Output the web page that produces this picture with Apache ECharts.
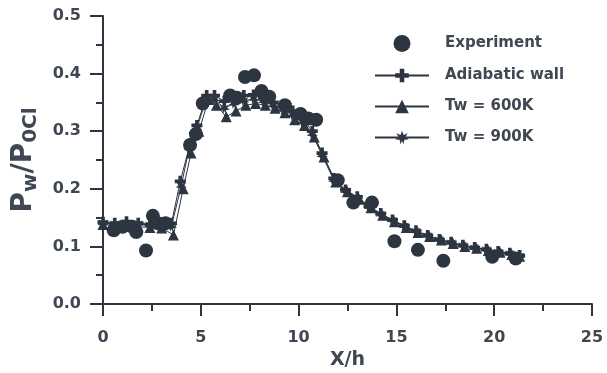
<!DOCTYPE html>
<html>
  <head>
    <meta charset="utf-8" />
    <title>Pw/P0Cl vs X/h</title>
    <script src="https://cdn.jsdelivr.net/npm/echarts@6.0.0/dist/echarts.min.js"></script>
  </head>
  <body style="margin: 0; background: #fff">
    <div id="main" style="width: 607px; height: 373px"></div>
    <script type="text/javascript">
      // experiment points [X/h, Pw/P0Cl]
      var expX = [0.55, 1.0, 1.5, 1.7, 2.2, 2.55, 2.8, 3.2, 4.45, 4.75, 5.1, 6.5, 6.85, 7.26, 7.72, 8.1, 8.5, 9.3, 10.1, 10.5, 10.9, 12.0, 12.8, 13.75, 14.9, 16.1, 17.4, 19.9, 21.1];
      var expY = [0.128, 0.134, 0.134, 0.125, 0.093, 0.153, 0.14, 0.14, 0.276, 0.295, 0.348, 0.362, 0.358, 0.394, 0.397, 0.37, 0.36, 0.345, 0.33, 0.322, 0.32, 0.215, 0.176, 0.176, 0.109, 0.094, 0.075, 0.082, 0.079];

      // adiabatic wall
      var adX = [0, 0.6, 1.2, 1.8, 2.4, 3.0, 3.5, 3.95, 4.45, 4.8, 5.3, 5.7, 6.2, 6.7, 7.2, 7.7, 8.2, 8.7, 9.2, 9.7, 10.2, 10.7, 11.2, 11.8, 12.4, 13.0, 13.6, 14.2, 14.8, 15.4, 16.0, 16.6, 17.2, 17.8, 18.4, 19.0, 19.6, 20.2, 20.8, 21.3];
      var adY = [0.142, 0.14, 0.143, 0.14, 0.138, 0.141, 0.14, 0.213, 0.278, 0.31, 0.362, 0.362, 0.352, 0.358, 0.362, 0.363, 0.358, 0.35, 0.343, 0.335, 0.322, 0.3, 0.262, 0.218, 0.198, 0.186, 0.17, 0.157, 0.146, 0.136, 0.127, 0.119, 0.112, 0.107, 0.102, 0.098, 0.095, 0.091, 0.088, 0.084];

      // Tw = 600K
      var t6X = [0, 0.6, 1.2, 1.8, 2.4, 3.0, 3.6, 4.1, 4.5, 4.9, 5.4, 5.8, 6.3, 6.8, 7.3, 7.8, 8.3, 8.8, 9.3, 9.8, 10.3, 10.8, 11.3, 11.9, 12.5, 13.1, 13.7, 14.3, 14.9, 15.5, 16.1, 16.7, 17.3, 17.9, 18.5, 19.1, 19.7, 20.3, 20.9, 21.3];
      var t6Y = [0.138, 0.136, 0.135, 0.134, 0.133, 0.132, 0.12, 0.2, 0.262, 0.3, 0.355, 0.345, 0.325, 0.335, 0.345, 0.348, 0.345, 0.34, 0.332, 0.32, 0.31, 0.29, 0.255, 0.212, 0.195, 0.182, 0.167, 0.154, 0.143, 0.133, 0.124, 0.117, 0.111, 0.105, 0.1, 0.097, 0.093, 0.09, 0.086, 0.083];

      // Tw = 900K
      var t9X = [0, 0.6, 1.2, 1.8, 2.4, 3.0, 3.5, 4.0, 4.4, 4.8, 5.3, 5.7, 6.2, 6.7, 7.2, 7.7, 8.2, 8.7, 9.2, 9.7, 10.2, 10.7, 11.2, 11.8, 12.4, 13.0, 13.6, 14.2, 14.8, 15.4, 16.0, 16.6, 17.2, 17.8, 18.4, 19.0, 19.6, 20.2, 20.8, 21.3];
      var t9Y = [0.14, 0.139, 0.14, 0.139, 0.137, 0.139, 0.135, 0.205, 0.27, 0.305, 0.358, 0.355, 0.34, 0.348, 0.353, 0.356, 0.352, 0.345, 0.337, 0.328, 0.316, 0.295, 0.258, 0.215, 0.196, 0.184, 0.168, 0.155, 0.145, 0.135, 0.126, 0.118, 0.111, 0.106, 0.101, 0.097, 0.094, 0.09, 0.087, 0.083];

      var xTicks = [0, 5, 10, 15, 20, 25];
      var yTicks = [0.0, 0.1, 0.2, 0.3, 0.4, 0.5];

      function pairs(xs, ys) {
        return xs.map((x, i) => [x, ys[i]]);
      }

      var ink = "#2c3540";
      var txt = "#3e4752";
      var font = "DejaVu Sans";
      var plus = "path://M-1,-3L1,-3L1,-1L3,-1L3,1L1,1L1,3L-1,3L-1,1L-3,1L-3,-1L-1,-1Z";
      var star = "path://M0,-4L0.9,-1.6L3.4,-2.6L2,-0.5L4,1L1.4,1.2L0.9,3.8L0,1.8L-0.9,3.8L-1.4,1.2L-4,1L-2,-0.5L-3.4,-2.6L-0.9,-1.6Z";

      var myChart = echarts.init(document.getElementById("main"));

      var option = {
        backgroundColor: "#ffffff",
        animation: false,
        grid: { left: 103, right: 15, top: 16, bottom: 69, outerBoundsMode: "none" },
        legend: {
          orient: "vertical",
          left: 369,
          top: 30,
          itemWidth: 54,
          itemHeight: 17,
          itemGap: 16,
          textStyle: { color: txt, fontSize: 15, fontWeight: "bold", fontFamily: font, padding: [0, 0, 0, 11] },
          data: ["Experiment", "Adiabatic wall", "Tw = 600K", "Tw = 900K"],
        },
        xAxis: {
          type: "value",
          min: 0,
          max: 25,
          interval: 5,
          name: "X/h",
          nameLocation: "middle",
          nameGap: 46,
          nameTextStyle: { color: txt, fontSize: 19, fontWeight: "bold", fontFamily: font },
          axisLine: { lineStyle: { color: ink, width: 2 } },
          axisTick: { length: 12, lineStyle: { color: ink, width: 2 } },
          minorTick: { show: true, splitNumber: 2, length: 7, lineStyle: { color: ink, width: 2 } },
          splitLine: { show: false },
          axisLabel: {
            color: txt,
            fontSize: 16,
            fontWeight: "bold",
            fontFamily: font,
            margin: 26,
            formatter: (v) => (xTicks.indexOf(v) >= 0 ? String(v) : ""),
          },
        },
        yAxis: {
          type: "value",
          min: 0,
          max: 0.5,
          interval: 0.1,
          name: "{a|P}{s|w}{a|/P}{s|0Cl}",
          nameLocation: "middle",
          nameGap: 62,
          nameRotate: 90,
          nameTextStyle: {
            rich: {
              a: { color: txt, fontSize: 28, fontWeight: "bold", fontFamily: font, verticalAlign: "top", lineHeight: 31 },
              s: { color: txt, fontSize: 20, fontWeight: "bold", fontFamily: font, verticalAlign: "bottom", lineHeight: 31, padding: [13, 0, 0, 0] },
            },
          },
          axisLine: { show: true, lineStyle: { color: ink, width: 2 } },
          axisTick: { show: true, length: 13, lineStyle: { color: ink, width: 2 } },
          minorTick: { show: true, splitNumber: 2, length: 7, lineStyle: { color: ink, width: 2 } },
          splitLine: { show: false },
          axisLabel: {
            color: txt,
            fontSize: 16,
            fontWeight: "bold",
            fontFamily: font,
            margin: 22,
            formatter: (v) => v.toFixed(1),
          },
        },
        series: [
          {
            name: "Experiment",
            type: "scatter",
            symbol: "circle",
            symbolSize: 14,
            itemStyle: { color: ink, opacity: 1 },
            data: pairs(expX, expY),
            z: 5,
          },
          {
            name: "Adiabatic wall",
            type: "line",
            symbol: plus,
            symbolSize: 11,
            showAllSymbol: true,
            lineStyle: { color: ink, width: 1 },
            itemStyle: { color: ink },
            data: pairs(adX, adY),
          },
          {
            name: "Tw = 600K",
            type: "line",
            symbol: "triangle",
            symbolSize: 11,
            showAllSymbol: true,
            lineStyle: { color: ink, width: 1 },
            itemStyle: { color: ink },
            data: pairs(t6X, t6Y),
          },
          {
            name: "Tw = 900K",
            type: "line",
            symbol: star,
            symbolSize: 11,
            showAllSymbol: true,
            lineStyle: { color: ink, width: 1 },
            itemStyle: { color: ink },
            data: pairs(t9X, t9Y),
          },
        ],
      };

      myChart.setOption(option);
    </script>
  </body>
</html>
